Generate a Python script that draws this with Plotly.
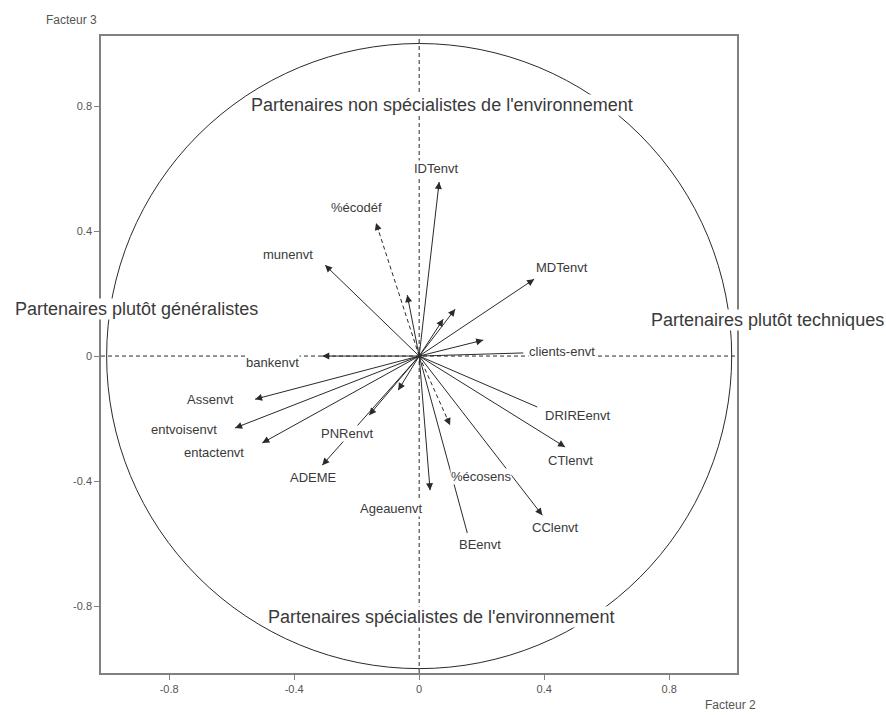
import math
import plotly.graph_objects as go

# ---------------- data ----------------
variables = ["IDTenvt", "%écodéf", "munenvt", "MDTenvt", "", "", "", "",
             "clients-envt", "bankenvt", "Assenvt", "entvoisenvt", "entactenvt",
             "PNRenvt", "", "ADEME", "Ageauenvt", "%écosens", "DRIREenvt",
             "CTlenvt", "CClenvt", "BEenvt"]
facteur2 = [0.064, -0.138, -0.301, 0.368, -0.038, 0.115, 0.077, 0.205,
            0.333, -0.310, -0.525, -0.589, -0.502,
            -0.160, -0.067, -0.310, 0.035, 0.099, 0.378,
            0.467, 0.394, 0.154]
facteur3 = [0.557, 0.426, 0.291, 0.246, 0.195, 0.150, 0.118, 0.051,
            0.010, 0.000, -0.138, -0.230, -0.278,
            -0.189, -0.109, -0.349, -0.429, -0.221, -0.163,
            -0.291, -0.509, -0.566]

tick_vals = [-0.8, -0.4, 0, 0.4, 0.8]
tick_text = ["-0.8", "-0.4", "0", "0.4", "0.8"]

zone_labels = ["Partenaires non spécialistes de l'environnement",
               "Partenaires spécialistes de l'environnement",
               "Partenaires plutôt généralistes",
               "Partenaires plutôt techniques"]

# ---------------- styles ----------------
dashed_vars = {"%écodéf", "%écosens"}
no_head_vars = {"clients-envt", "DRIREenvt", "BEenvt"}
# label placement relative to the vector end, in pixels: (xshift, yshift, xanchor)
label_place = {
    "IDTenvt": (-3, 13, "center"),
    "%écodéf": (-20, 15, "center"),
    "munenvt": (-37, 11, "center"),
    "MDTenvt": (28, 12, "center"),
    "clients-envt": (5, 1, "left"),
    "bankenvt": (-50, -6, "center"),
    "Assenvt": (-20, 0, "right"),
    "entvoisenvt": (-17, -2, "right"),
    "entactenvt": (-17, -10, "right"),
    "PNRenvt": (-22, -18, "center"),
    "ADEME": (-9, -12, "center"),
    "Ageauenvt": (-39, -18, "center"),
    "%écosens": (31, -51, "center"),
    "DRIREenvt": (40, -8, "center"),
    "CTlenvt": (5, -13, "center"),
    "CClenvt": (13, -12, "center"),
    "BEenvt": (13, -12, "center"),
}

LINE = "#2a2a2a"
TXT = "#3a3a3a"
FONT = "Liberation Sans, Arial, sans-serif"

fig = go.Figure()

# vector lines
for name, x, y in zip(variables, facteur2, facteur3):
    fig.add_trace(go.Scatter(
        x=[0, x], y=[0, y], mode="lines",
        line=dict(color=LINE, width=1,
                  dash="4px,3px" if name in dashed_vars else "solid"),
        hoverinfo="skip", showlegend=False))

annotations = []
# arrow heads
for name, x, y in zip(variables, facteur2, facteur3):
    if name in no_head_vars:
        continue
    L = math.hypot(x, y)
    back = 0.03
    annotations.append(dict(
        x=x, y=y, ax=x - back * x / L, ay=y - back * y / L,
        xref="x", yref="y", axref="x", ayref="y",
        text="", showarrow=True, arrowhead=2, arrowsize=1.4,
        arrowwidth=1, arrowcolor=LINE, standoff=0))

# vector labels
for name, x, y in zip(variables, facteur2, facteur3):
    if not name:
        continue
    dx, dy, anchor = label_place[name]
    annotations.append(dict(
        x=x, y=y, xref="x", yref="y", text=name, showarrow=False,
        xshift=dx, yshift=dy, xanchor=anchor, yanchor="middle",
        font=dict(family=FONT, size=13, color=TXT),
        bgcolor="white", borderpad=0))

# zone labels
zone_pos = [
    dict(x=0.536, y=(673 - 105) / 637, xanchor="center"),
    dict(x=0.536, y=(673 - 617) / 637, xanchor="center"),
    dict(x=(136 - 101) / 636, y=(673 - 309) / 637, xanchor="center"),
    dict(x=(767 - 101) / 636, y=(673 - 320) / 637, xanchor="center"),
]
for text, pos in zip(zone_labels, zone_pos):
    annotations.append(dict(
        text=text, xref="paper", yref="paper", showarrow=False,
        yanchor="middle", font=dict(family=FONT, size=18, color=TXT),
        bgcolor="white", borderpad=0, **pos))

# axis titles
annotations.append(dict(text="Facteur 3", xref="paper", yref="paper",
                        x=(71 - 101) / 636, y=(673 - 20) / 637,
                        xanchor="center", yanchor="middle", showarrow=False,
                        font=dict(family=FONT, size=12, color="#555")))
annotations.append(dict(text="Facteur 2", xref="paper", yref="paper",
                        x=(730 - 101) / 636, y=(673 - 705) / 637,
                        xanchor="center", yanchor="middle", showarrow=False,
                        font=dict(family=FONT, size=12, color="#555")))

shapes = [
    dict(type="circle", xref="x", yref="y", x0=-1, y0=-1, x1=1, y1=1,
         line=dict(color=LINE, width=1), layer="below"),
    dict(type="line", xref="x", yref="paper", x0=0, x1=0, y0=0, y1=1,
         line=dict(color=LINE, width=1, dash="4px,3px"), layer="below"),
    dict(type="line", xref="paper", yref="y", x0=0, x1=1, y0=0, y1=0,
         line=dict(color=LINE, width=1, dash="4px,3px"), layer="below"),
]

axis_common = dict(
    tickvals=tick_vals, ticktext=tick_text, showgrid=False, zeroline=False,
    showline=True, mirror=True, linecolor="#808080", linewidth=1.5,
    ticks="outside", ticklen=5, tickcolor="#808080", tickwidth=1,
    tickfont=dict(family=FONT, size=11, color="#555"),
)

fig.update_layout(
    width=886, height=715,
    margin=dict(l=101, r=149, t=36, b=42),
    paper_bgcolor="white", plot_bgcolor="white",
    xaxis=dict(range=[-1.018, 1.017], **axis_common),
    yaxis=dict(range=[-1.014, 1.024], **axis_common),
    shapes=shapes, annotations=annotations, showlegend=False,
)

fig.write_html(
    "out.html",
    config={"displayModeBar": False},
    post_script="document.body.style.margin='0';"
                "document.body.style.overflow='hidden';",
)
